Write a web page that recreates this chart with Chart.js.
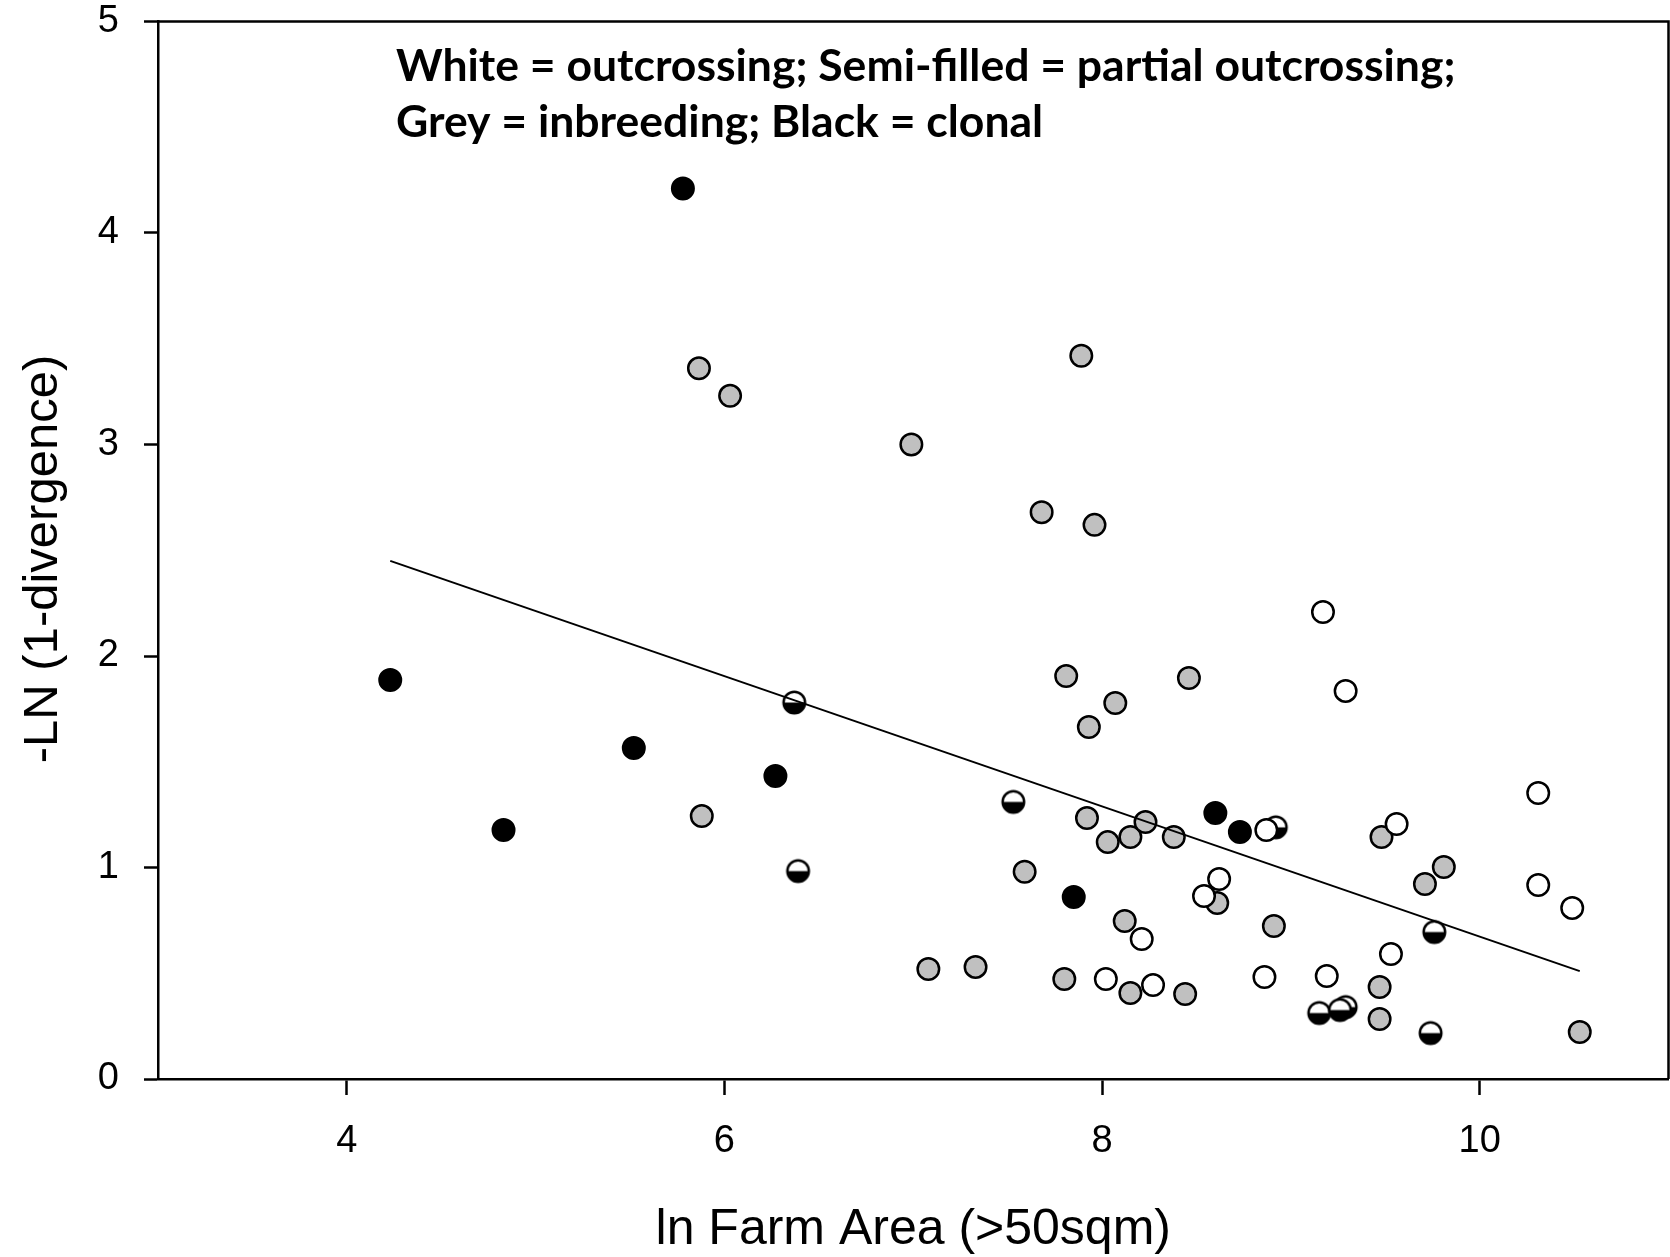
<!DOCTYPE html>
<html>
<head>
<meta charset="utf-8">
<title>Divergence vs farm area</title>
<script src="https://cdn.jsdelivr.net/npm/chart.js@4/dist/chart.umd.min.js"></script>
<style>
  html, body { margin: 0; padding: 0; background: #ffffff; overflow: hidden; }
  #wrap { width: 1670px; height: 1257px; }
</style>
</head>
<body>
<div id="wrap"><canvas id="chart" width="1670" height="1257"></canvas></div>
<script>
// Clonal populations (black)
const clonalX = [5.78, 4.23, 4.83, 5.52, 6.27, 7.85, 8.60, 8.73];
const clonalY = [4.21, 1.887, 1.177, 1.565, 1.433, 0.86, 1.258, 1.168];

// Inbreeding populations (grey)
const inbreedX = [5.865, 6.03, 6.99, 7.89, 7.68, 7.96, 7.81, 8.46, 8.07, 7.93, 5.88, 7.92, 8.03, 8.15, 8.23, 8.38,
                  7.59, 8.61, 8.12, 8.91, 7.08, 7.33, 7.80, 8.15, 8.44, 9.48, 9.81, 9.71, 9.47, 9.47, 10.53];
const inbreedY = [3.36, 3.23, 3.00, 3.42, 2.68, 2.62, 1.905, 1.896, 1.778, 1.664, 1.243, 1.234, 1.12, 1.144, 1.215, 1.144,
                  0.98, 0.832, 0.747, 0.723, 0.52, 0.53, 0.473, 0.407, 0.402, 1.144, 1.002, 0.922, 0.435, 0.284, 0.222];

// Outcrossing populations (white)
const outcrossX = [9.17, 9.29, 10.31, 9.56, 10.31, 10.49, 8.87, 8.62, 8.54, 8.21, 8.02, 8.27, 8.86, 9.19, 9.53];
const outcrossY = [2.208, 1.835, 1.352, 1.206, 0.917, 0.809, 1.177, 0.946, 0.865, 0.662, 0.473, 0.444, 0.482, 0.487, 0.591];

// Partial outcrossing populations (semi-filled)
const partialX = [6.37, 7.53, 6.39, 8.92, 9.76, 9.29, 9.15, 9.26, 9.74];
const partialY = [1.78, 1.31, 0.983, 1.19, 0.695, 0.34, 0.312, 0.326, 0.217];

// Fitted regression line end points
const fitX = [4.23, 10.53];
const fitY = [2.45, 0.51];

// Axis ticks
const xTickValues = [4, 6, 8, 10];
const yTickValues = [0, 1, 2, 3, 4, 5];

const xTitle = 'ln Farm Area (>50sqm)';
const yTitle = '-LN (1-divergence)';
const legendLines = [
  'White = outcrossing; Semi-filled = partial outcrossing;',
  'Grey = inbreeding; Black = clonal'
];

const toPoints = (xs, ys) => xs.map((x, i) => ({ x: x, y: ys[i] }));

const R = 10.75;
const BW = 2.5;

// Half white / half black marker for partial outcrossing
function makeSemiMarker() {
  const s = 27, c = s / 2;
  const cv = document.createElement('canvas');
  cv.width = s; cv.height = s;
  const g = cv.getContext('2d');
  g.beginPath(); g.arc(c, c, R, 0, Math.PI * 2); g.fillStyle = '#ffffff'; g.fill();
  g.beginPath(); g.arc(c, c, R, 0, Math.PI); g.closePath(); g.fillStyle = '#000000'; g.fill();
  g.beginPath(); g.arc(c, c, R, 0, Math.PI * 2); g.lineWidth = BW; g.strokeStyle = '#000000'; g.stroke();
  return cv;
}

// Closes the plot box and writes the key text and the y-axis title
const frameAndNotes = {
  id: 'frameAndNotes',
  afterDatasetsDraw(chart) {
    const { ctx, chartArea: a } = chart;
    ctx.save();
    ctx.strokeStyle = '#000000';
    ctx.lineWidth = 2.5;
    ctx.beginPath();
    ctx.moveTo(a.left, a.top);
    ctx.lineTo(a.right, a.top);
    ctx.lineTo(a.right, a.bottom);
    ctx.stroke();

    ctx.fillStyle = '#000000';
    ctx.font = 'bold 44.5px Lato, "Open Sans", sans-serif';
    ctx.textBaseline = 'alphabetic';
    ctx.textAlign = 'left';
    ctx.fillText(legendLines[0], 396, 81);
    ctx.fillText(legendLines[1], 396, 137);

    ctx.translate(43, 559);
    ctx.rotate(-Math.PI / 2);
    ctx.font = '49px "Liberation Sans", Arial, sans-serif';
    ctx.textAlign = 'center';
    ctx.textBaseline = 'middle';
    ctx.fillText(yTitle, 0, 0);
    ctx.restore();
  }
};

const tickFont = { family: '"Liberation Sans", Arial, sans-serif', size: 38 };

function noEdgePadding(scale) {
  scale.paddingTop = 0; scale.paddingBottom = 0;
  scale.paddingLeft = 0; scale.paddingRight = 0;
}

new Chart(document.getElementById('chart'), {
  type: 'scatter',
  data: {
    datasets: [
      {
        label: 'fit', data: toPoints(fitX, fitY), showLine: true, borderColor: '#000000',
        borderWidth: 2, pointRadius: 0, order: 0
      },
      {
        label: 'clonal', data: toPoints(clonalX, clonalY), pointStyle: 'circle', pointRadius: R,
        backgroundColor: '#000000', borderColor: '#000000', borderWidth: BW, order: 1
      },
      {
        label: 'outcrossing', data: toPoints(outcrossX, outcrossY), pointStyle: 'circle', pointRadius: R,
        backgroundColor: '#ffffff', borderColor: '#000000', borderWidth: BW, order: 2
      },
      {
        label: 'partial outcrossing', data: toPoints(partialX, partialY), pointStyle: makeSemiMarker(),
        pointRadius: R, backgroundColor: '#ffffff', borderColor: '#000000', borderWidth: BW, order: 3
      },
      {
        label: 'inbreeding', data: toPoints(inbreedX, inbreedY), pointStyle: 'circle', pointRadius: R,
        backgroundColor: '#c0c0c0', borderColor: '#000000', borderWidth: BW, order: 4
      }
    ]
  },
  options: {
    responsive: false,
    animation: false,
    events: [],
    layout: { autoPadding: false, padding: { top: 21.5, right: 1.5, left: 0, bottom: 0 } },
    plugins: { legend: { display: false }, tooltip: { enabled: false } },
    scales: {
      x: {
        type: 'linear', min: 3, max: 11,
        afterBuildTicks(scale) { scale.ticks = xTickValues.map(v => ({ value: v })); },
        afterFit(scale) { scale.height = 178; noEdgePadding(scale); },
        border: { display: true, color: '#000000', width: 2.5 },
        grid: { drawOnChartArea: false, drawTicks: true, tickLength: 16, tickColor: '#000000', tickWidth: 2.5 },
        ticks: { color: '#000000', font: tickFont, padding: 24, maxRotation: 0 },
        title: {
          display: true, text: xTitle, color: '#000000',
          font: { family: '"Liberation Sans", Arial, sans-serif', size: 50, lineHeight: 1 },
          padding: { top: 0, bottom: 2 }
        }
      },
      y: {
        type: 'linear', min: 0, max: 5,
        afterBuildTicks(scale) { scale.ticks = yTickValues.map(v => ({ value: v })); },
        afterFit(scale) { scale.width = 158; noEdgePadding(scale); },
        border: { display: true, color: '#000000', width: 2.5 },
        grid: { drawOnChartArea: false, drawTicks: true, tickLength: 14, tickColor: '#000000', tickWidth: 2.5 },
        ticks: { color: '#000000', font: tickFont, padding: 25 }
      }
    }
  },
  plugins: [frameAndNotes]
});
</script>
</body>
</html>
